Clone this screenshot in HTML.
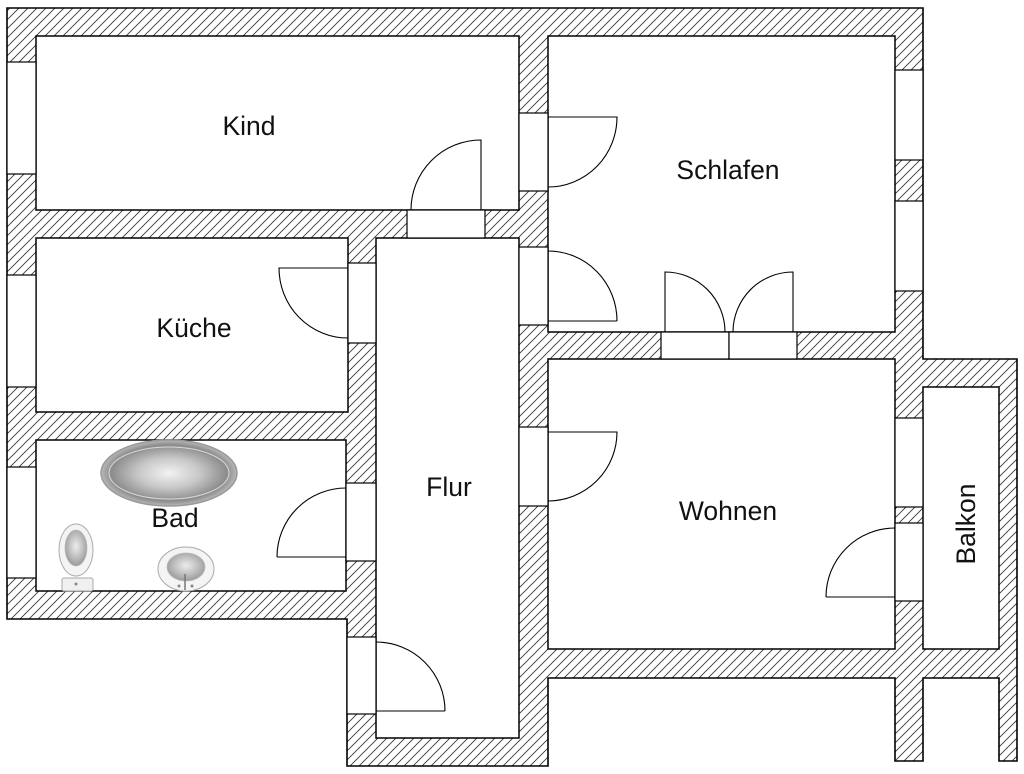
<!DOCTYPE html>
<html><head><meta charset="utf-8"><style>
html,body{margin:0;padding:0;background:#fff;}
svg{display:block;}
text{font-family:"Liberation Sans",Arial,sans-serif;font-size:26.5px;fill:#111;}
</style></head><body>
<svg width="1024" height="774" viewBox="0 0 1024 774" xmlns="http://www.w3.org/2000/svg">
<defs>
<pattern id="h" patternUnits="userSpaceOnUse" width="9" height="9">
<rect width="9" height="9" fill="#fff"/>
<path d="M-1,1 L1,-1 M0,9 L9,0 M8,10 L10,8" stroke="#3a3a3a" stroke-width="0.9"/>
</pattern>
<radialGradient id="tub" cx="50%" cy="50%" r="50%">
<stop offset="0" stop-color="#f2f2f2"/>
<stop offset="0.45" stop-color="#c8c8c8"/>
<stop offset="0.85" stop-color="#8c8c8c"/>
<stop offset="1" stop-color="#b8b8b8"/>
</radialGradient>
<radialGradient id="ws" cx="50%" cy="45%" r="55%">
<stop offset="0" stop-color="#ececec"/>
<stop offset="0.6" stop-color="#bdbdbd"/>
<stop offset="1" stop-color="#9a9a9a"/>
</radialGradient>
</defs>

<!-- outer walls -->
<path d="M7,8 L923,8 L923,359 L1017,359 L1017,761 L999,761 L999,678 L923,678 L923,761 L895,761 L895,678 L548,678 L548,766 L347,766 L347,619 L7,619 Z" fill="url(#h)" stroke="#000" stroke-width="1.6"/>

<g fill="#fff" stroke="#000" stroke-width="1.5">
<!-- rooms -->
<rect x="36" y="36" width="483" height="174"/>
<rect x="548" y="36" width="347" height="296"/>
<rect x="36" y="238" width="312" height="174"/>
<rect x="376" y="238" width="143" height="500"/>
<rect x="36" y="440" width="310" height="151"/>
<rect x="548" y="359" width="347" height="290"/>
<rect x="923" y="387" width="76" height="262"/>
</g>

<g fill="#fff" stroke="#000" stroke-width="1.2">
<!-- windows left -->
<rect x="7" y="62" width="29" height="112"/>
<rect x="7" y="275" width="29" height="112"/>
<rect x="7" y="467" width="29" height="111"/>
<!-- windows right -->
<rect x="895" y="70" width="28" height="90"/>
<rect x="895" y="201" width="28" height="90"/>
<rect x="895" y="418" width="28" height="89"/>
<rect x="895" y="523" width="28" height="78"/>
<!-- door openings -->
<rect x="407" y="210" width="78" height="28"/>
<rect x="519" y="113" width="29" height="78"/>
<rect x="519" y="247" width="29" height="78"/>
<rect x="661" y="332" width="68" height="27"/>
<rect x="729" y="332" width="68" height="27"/>
<rect x="348" y="263" width="28" height="80"/>
<rect x="346" y="483" width="30" height="78"/>
<rect x="347" y="637" width="29" height="77"/>
<rect x="519" y="427" width="29" height="79"/>
</g>

<!-- doors -->
<g fill="none" stroke="#000" stroke-width="1.1">
<path d="M481,210 L481,140 A70,70 0 0 0 411,210"/>
<path d="M548,117 L617,117 A69,70 0 0 1 548,187"/>
<path d="M548,321 L617,321 M548,251 A69,70 0 0 1 617,321"/>
<path d="M665,332 L665,272 A60,60 0 0 1 725,332"/>
<path d="M793,332 L793,272 A60,60 0 0 0 733,332"/>
<path d="M348,268 L279,268 A69,70 0 0 0 348,338"/>
<path d="M346,557 L277,557 M346,488 A69,69 0 0 0 277,557"/>
<path d="M376,711 L445,711 M376,642 A69,69 0 0 1 445,711"/>
<path d="M548,432 L617,432 A69,69 0 0 1 548,501"/>
<path d="M895,597 L826,597 M895,528 A69,69 0 0 0 826,597"/>
</g>

<!-- bathroom fixtures -->
<ellipse cx="169" cy="473" rx="68" ry="33" fill="url(#tub)" stroke="#9a9a9a" stroke-width="1.5"/>
<ellipse cx="169" cy="473" rx="60" ry="26" fill="none" stroke="#d8d8d8" stroke-width="1"/>
<ellipse cx="76" cy="550" rx="17" ry="26" fill="#f4f4f4" stroke="#aaa" stroke-width="1"/>
<ellipse cx="76" cy="548" rx="11" ry="18" fill="url(#ws)" stroke="#bbb" stroke-width="0.8"/>
<rect x="62" y="578" width="31" height="13" rx="2" fill="#f0f0f0" stroke="#aaa" stroke-width="1"/>
<circle cx="76" cy="584" r="1.5" fill="#888"/>
<ellipse cx="186" cy="569" rx="28" ry="22" fill="#f4f4f4" stroke="#aaa" stroke-width="1"/>
<ellipse cx="186" cy="567" rx="19" ry="14" fill="url(#ws)" stroke="#bbb" stroke-width="0.8"/>
<line x1="185" y1="574" x2="185" y2="590" stroke="#777" stroke-width="1.5"/>
<circle cx="179" cy="586" r="1.5" fill="#888"/>
<circle cx="192" cy="586" r="1.5" fill="#888"/>

<!-- labels -->
<text x="249" y="135" text-anchor="middle">Kind</text>
<text x="728" y="179" text-anchor="middle">Schlafen</text>
<text x="194" y="337" text-anchor="middle">Küche</text>
<text x="449" y="496" text-anchor="middle">Flur</text>
<text x="175" y="527" text-anchor="middle">Bad</text>
<text x="728" y="520" text-anchor="middle">Wohnen</text>
<text x="0" y="0" text-anchor="middle" transform="translate(975,524) rotate(-90)">Balkon</text>
</svg>
</body></html>
